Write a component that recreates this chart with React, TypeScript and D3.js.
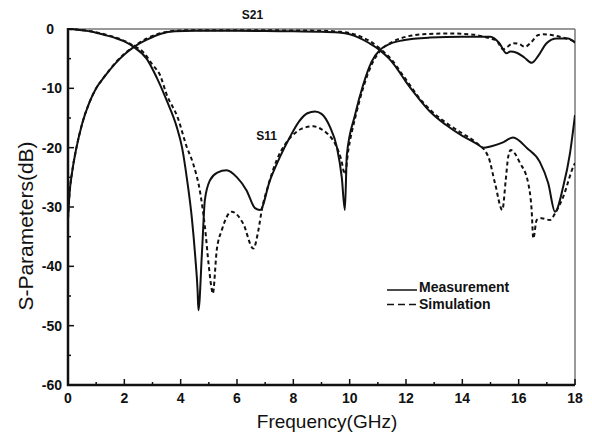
import React from "react";
import * as d3 from "d3";

type Pt = [number, number];

const xTicksMajor = [0, 2, 4, 6, 8, 10, 12, 14, 16, 18];
const xTicksMinor = [1, 3, 5, 7, 9, 11, 13, 15, 17];
const yTicksMajor = [0, -10, -20, -30, -40, -50, -60];
const yTicksMinor = [-5, -15, -25, -35, -45, -55];

const measS21: Pt[] = [
  [0, -32], [0.05, -28], [0.15, -24], [0.3, -20], [0.5, -16], [0.75, -12.5], [1.0, -10],
  [1.3, -8], [1.7, -5.7], [2.0, -4.3], [2.32, -3.1], [2.8, -1.8], [3.3, -0.8], [3.8, -0.4],
  [4.5, -0.3], [6, -0.3], [7, -0.35], [8, -0.4], [9, -0.45], [9.6, -0.6], [10.0, -0.9],
  [10.3, -1.4], [10.7, -2.4], [11.08, -3.6], [11.4, -5.0], [11.7, -6.8], [12.0, -8.9],
  [12.3, -10.8], [12.85, -13.9], [13.4, -16.1], [14.0, -18], [14.5, -19.3], [14.75, -20],
  [15.0, -19.8], [15.4, -19.2], [15.8, -18.3], [16.3, -20.1], [16.75, -22.4], [17.05, -26],
  [17.29, -30.8], [17.58, -26.6], [17.82, -21], [18, -14.5],
];

const simS21: Pt[] = [
  [0, -32], [0.05, -28], [0.15, -24], [0.3, -20], [0.5, -16], [0.75, -12.5], [1.0, -10],
  [1.3, -8], [1.7, -5.6], [2.0, -4.2], [2.32, -3.0], [2.8, -1.6], [3.3, -0.7], [3.8, -0.3],
  [4.5, -0.2], [6, -0.2], [8, -0.25], [9, -0.3], [9.6, -0.45], [10.0, -0.7], [10.4, -1.3],
  [10.8, -2.3], [11.15, -3.6], [11.5, -5.2], [11.8, -7.2], [12.1, -9.2], [12.4, -11.2],
  [12.9, -13.8], [13.45, -15.9], [14.0, -17.6], [14.45, -19], [14.92, -21.5], [15.16, -26],
  [15.42, -30.5], [15.54, -25.5], [15.63, -21.5], [15.72, -20.4], [16.05, -22.6], [16.34, -26],
  [16.46, -30.5], [16.52, -35.3], [16.64, -32.2], [16.81, -31.9], [17.11, -32.2], [17.29, -31.1],
  [17.58, -28.3], [17.94, -23.2], [18, -22.6],
];

const measS11: Pt[] = [
  [0, 0], [0.5, -0.2], [0.9, -0.5], [1.3, -1.0], [1.73, -1.6], [2.0, -2.1], [2.32, -3.0],
  [2.79, -5], [3.15, -8.2], [3.5, -12], [3.86, -16.5], [4.05, -20], [4.23, -25.5], [4.4, -32],
  [4.52, -38.5], [4.6, -44], [4.63, -47.4], [4.76, -37.3], [4.86, -28.8], [5.04, -25.5],
  [5.3, -24.2], [5.63, -23.8], [6.0, -25], [6.34, -27.2], [6.64, -30.2], [6.82, -30.5],
  [7.17, -25.5], [7.53, -21.5], [7.88, -18.2], [8.2, -15.6], [8.5, -14.2], [8.77, -13.9],
  [9.0, -14.3], [9.3, -16.5], [9.55, -20], [9.72, -25], [9.83, -30.5], [9.9, -21.2],
  [10.19, -14.5], [10.48, -9.4], [10.78, -5.5], [11.08, -3.5], [11.43, -2.5], [11.9, -1.9],
  [12.85, -1.45], [14.0, -1.3], [15.0, -1.3], [15.3, -2.3], [15.57, -4.1], [15.7, -3.8],
  [15.93, -4.0], [16.2, -4.8], [16.46, -5.7], [16.7, -4.5], [16.99, -2.4], [17.35, -1.6],
  [17.75, -1.6], [18, -2.3],
];

const simS11: Pt[] = [
  [0, 0], [0.5, -0.2], [0.9, -0.45], [1.3, -0.9], [1.73, -1.5], [2.0, -2.0], [2.32, -2.8],
  [2.67, -3.9], [3.0, -6], [3.27, -7.8], [3.5, -11], [3.9, -15], [4.21, -19.8], [4.45, -22.8],
  [4.69, -27.5], [4.86, -33.3], [5.0, -40], [5.1, -43.8], [5.14, -44.6], [5.28, -37.3],
  [5.46, -33.9], [5.81, -30.8], [6.22, -32.8], [6.58, -37], [6.76, -33.9], [6.88, -30.5],
  [7.1, -26.5], [7.41, -22.1], [7.7, -19.5], [8.0, -17.8], [8.3, -16.8], [8.71, -16.4],
  [9.0, -16.9], [9.2, -17.6], [9.5, -19.5], [9.7, -22], [9.83, -24.5], [9.95, -20.5],
  [10.22, -14.5], [10.5, -9.6], [10.8, -5.8], [11.1, -3.6], [11.5, -2.2], [12.0, -1.3],
  [12.6, -0.9], [13.5, -0.75], [14.3, -0.9], [15.0, -1.6], [15.2, -1.9], [15.45, -3.4],
  [15.6, -3.0], [15.8, -2.4], [16.0, -2.5], [16.22, -3.0], [16.45, -2.2], [16.7, -1.0],
  [16.87, -0.9], [17.46, -1.3], [18, -2.1],
];

const legendLabels = ["Measurement", "Simulation"];

const W = 592;
const H = 435;
const L = 68, R = 575, T = 29, B = 385;

export default function App() {
  const x = d3.scaleLinear().domain([0, 18]).range([L, R]);
  const y = d3.scaleLinear().domain([-60, 0]).range([B, T]);
  const line = d3
    .line<Pt>()
    .x((d) => x(d[0]))
    .y((d) => y(d[1]))
    .curve(d3.curveMonotoneX);

  const font = "Arial, 'Liberation Sans', Helvetica, sans-serif";
  const ink = "#111";

  return (
    <svg
      width={W}
      height={H}
      style={{ position: "fixed", left: 0, top: 0, background: "#fff" }}
      fontFamily={font}
    >
      <rect x={0} y={0} width={W} height={H} fill="#fff" />
      <defs>
        <clipPath id="plot">
          <rect x={L} y={T - 2} width={R - L} height={B - T + 2} />
        </clipPath>
      </defs>

      {/* frame */}
      <line x1={L} x2={R} y1={T} y2={T} stroke="#777" strokeWidth={1.5} />
      <line x1={R} x2={R} y1={T} y2={B} stroke="#777" strokeWidth={1.5} />

      {/* curves */}
      <g clipPath="url(#plot)" fill="none" strokeLinejoin="round">
        <path d={line(simS21) || ""} stroke={ink} strokeWidth={2} strokeDasharray="4 3" />
        <path d={line(simS11) || ""} stroke={ink} strokeWidth={2} strokeDasharray="4 3" />
        <path d={line(measS21) || ""} stroke={ink} strokeWidth={2} />
        <path d={line(measS11) || ""} stroke={ink} strokeWidth={2} />
      </g>

      <line x1={L} x2={L} y1={T - 1} y2={B + 1} stroke={ink} strokeWidth={2.5} />
      <line x1={L - 1} x2={R} y1={B} y2={B} stroke={ink} strokeWidth={2.5} />

      {/* y ticks */}
      {yTicksMajor.map((v) => (
        <g key={"ym" + v}>
          <line x1={L} x2={L + 6} y1={y(v)} y2={y(v)} stroke={ink} strokeWidth={1.5} />
          <text
            x={v === 0 ? 54 : 62}
            y={y(v)}
            dy="0.36em"
            textAnchor="end"
            fontSize={14}
            fontWeight="bold"
            fill={ink}
          >
            {v}
          </text>
        </g>
      ))}
      {yTicksMinor.map((v) => (
        <line key={"yn" + v} x1={L} x2={L + 3} y1={y(v)} y2={y(v)} stroke={ink} strokeWidth={1.5} />
      ))}

      {/* x ticks */}
      {xTicksMajor.map((v) => (
        <g key={"xm" + v}>
          <line x1={x(v)} x2={x(v)} y1={B} y2={B - 6} stroke={ink} strokeWidth={1.5} />
          <text x={x(v)} y={403} textAnchor="middle" fontSize={14} fontWeight="bold" fill={ink}>
            {v}
          </text>
        </g>
      ))}
      {xTicksMinor.map((v) => (
        <line key={"xn" + v} x1={x(v)} x2={x(v)} y1={B} y2={B - 3} stroke={ink} strokeWidth={1.5} />
      ))}

      {/* axis titles */}
      <text x={327} y={428} textAnchor="middle" fontSize={19} fill={ink}>
        Frequency(GHz)
      </text>
      <text
        transform={`translate(33, 226) rotate(-90)`}
        textAnchor="middle"
        fontSize={21}
        fill={ink}
      >
        S-Parameters(dB)
      </text>

      {/* curve labels */}
      <text x={252.5} y={19} textAnchor="middle" fontSize={12} fontWeight="bold" fill={ink}>
        S21
      </text>
      <text x={266.5} y={140} textAnchor="middle" fontSize={12} fontWeight="bold" fill={ink}>
        S11
      </text>

      {/* legend */}
      <line x1={387} x2={417} y1={290} y2={290} stroke={ink} strokeWidth={1.5} />
      <text x={419} y={292} fontSize={14} fontWeight="bold" fill={ink}>
        {legendLabels[0]}
      </text>
      <line x1={387} x2={417} y1={304.5} y2={304.5} stroke={ink} strokeWidth={1.5} strokeDasharray="7 4" />
      <text x={419} y={309} fontSize={14} fontWeight="bold" fill={ink}>
        {legendLabels[1]}
      </text>
    </svg>
  );
}
